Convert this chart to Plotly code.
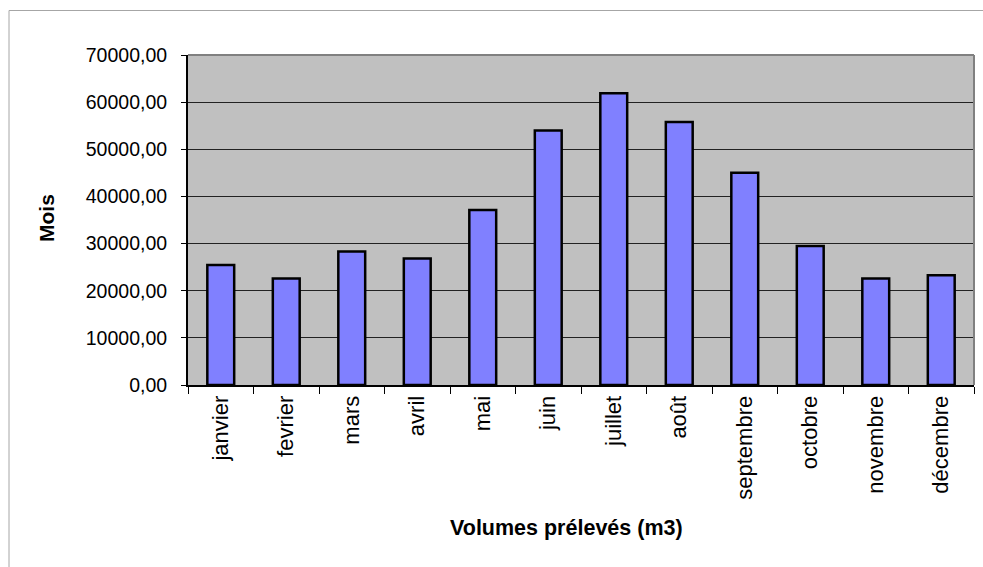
import plotly.graph_objects as go

# Monthly withdrawn volumes (m3)
months = ["janvier", "fevrier", "mars", "avril", "mai", "juin",
          "juillet", "août", "septembre", "octobre", "novembre", "décembre"]
volumes = [25450, 22600, 28300, 26850, 37100, 54000,
           61900, 55800, 45000, 29500, 22600, 23300]
y_ticks = [0, 10000, 20000, 30000, 40000, 50000, 60000, 70000]

W, H = 983, 567
ML, MR, MT, MB = 188, 9, 55, 182
PW, PH = W - ML - MR, H - MT - MB


def px_x(p):
    return (p - ML) / PW


def px_y(p):
    return (H - MB - p) / PH


FONT = "Liberation Sans, Arial, sans-serif"

fig = go.Figure(
    go.Bar(
        x=months,
        y=volumes,
        marker=dict(color="#8080FF", line=dict(color="#000000", width=2.5)),
    )
)

fig.update_layout(
    width=W,
    height=H,
    margin=dict(l=ML, r=MR, t=MT, b=MB, pad=0),
    paper_bgcolor="#FFFFFF",
    plot_bgcolor="#C0C0C0",
    bargap=0.59,
    showlegend=False,
    separators=", ",
    font=dict(family=FONT, color="#000000", size=19),
    shapes=[
        # outer chart frame
        dict(type="rect", xref="paper", yref="paper",
             x0=px_x(9), x1=px_x(W + 10), y0=px_y(H + 10), y1=px_y(10.5),
             line=dict(color="#A6A6A6", width=1), fillcolor="rgba(0,0,0,0)"),
        # plot area frame (top / right)
        dict(type="line", xref="paper", yref="paper", x0=0, x1=1, y0=1, y1=1,
             line=dict(color="#808080", width=2)),
        dict(type="line", xref="paper", yref="paper", x0=1, x1=1, y0=0, y1=1,
             line=dict(color="#808080", width=2)),
    ],
    annotations=[
        dict(text="<b>Mois</b>", xref="paper", yref="paper",
             x=px_x(46), y=px_y(218), textangle=-90, showarrow=False,
             xanchor="center", yanchor="middle",
             font=dict(family=FONT, size=21)),
        dict(text="<b>Volumes prélevés (m3)</b>", xref="paper", yref="paper",
             x=px_x(566), y=px_y(528), showarrow=False,
             xanchor="center", yanchor="middle",
             font=dict(family=FONT, size=21.5)),
    ],
)

fig.update_xaxes(
    type="category",
    tickangle=-90,
    ticks="outside",
    tickson="boundaries",
    ticklen=7,
    tickcolor="#000000",
    showline=True,
    linecolor="#000000",
    linewidth=2,
    showgrid=False,
    tickfont=dict(family=FONT, size=22),
)

fig.update_yaxes(
    range=[0, 70000],
    tickvals=y_ticks,
    tickformat=".2f",
    ticks="outside",
    ticklen=5,
    tickcolor="#000000",
    ticklabelstandoff=10,
    showline=True,
    linecolor="#000000",
    linewidth=2,
    showgrid=True,
    gridcolor="#222222",
    gridwidth=1,
    zeroline=False,
    tickfont=dict(family=FONT, size=19.5),
)

fig.write_html("out.html")
